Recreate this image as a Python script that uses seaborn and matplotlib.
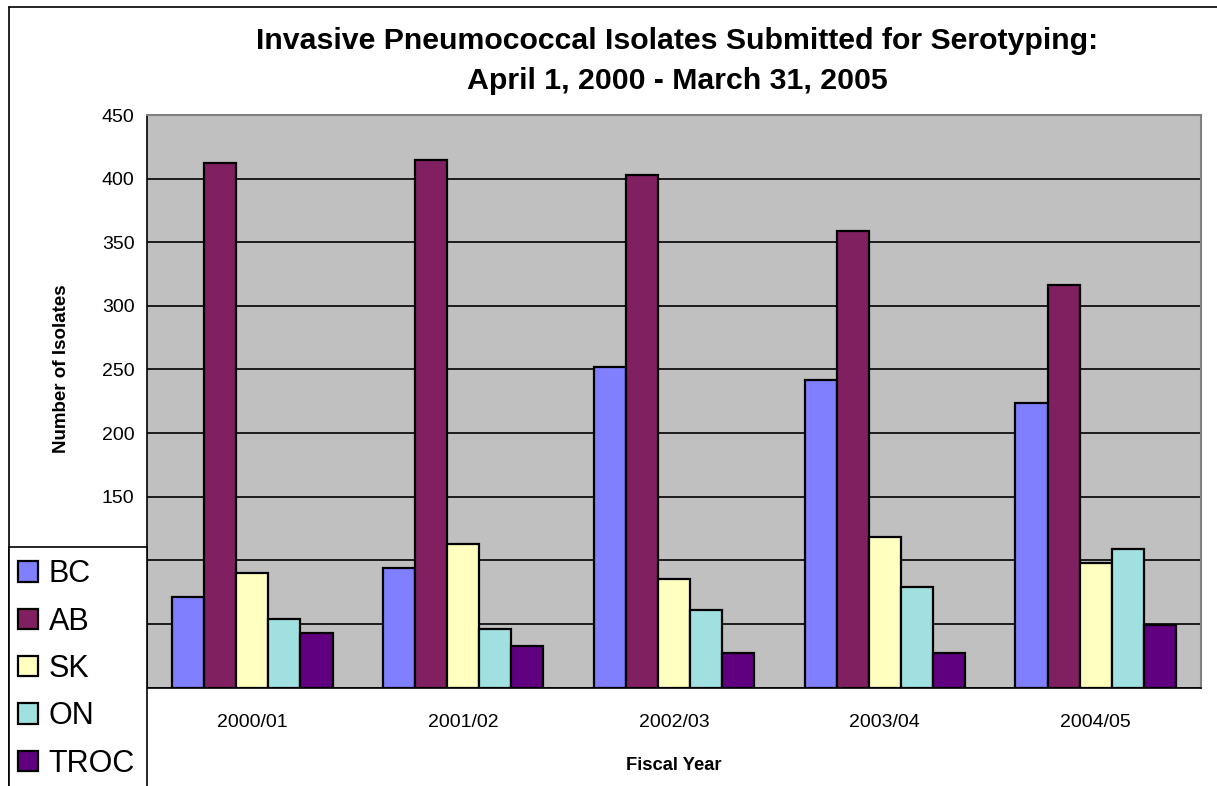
import matplotlib
matplotlib.use("Agg")
import matplotlib.pyplot as plt
from matplotlib.patches import Rectangle
from matplotlib.lines import Line2D
import seaborn as sns
import pandas as pd

# Fiscal years and isolate counts by province
years = ["2000/01", "2001/02", "2002/03", "2003/04", "2004/05"]
provinces = ["BC", "AB", "SK", "ON", "TROC"]
bc = [71, 94, 252, 242, 224]
ab = [412, 415, 403, 359, 316]
sk = [90, 113, 85, 118, 98]
on = [54, 46, 61, 79, 109]
troc = [43, 33, 27, 27, 49]
colors = ["#8080FF", "#802060", "#FFFFC0", "#A0E0E0", "#600080"]
y_ticks = [0, 50, 100, 150, 200, 250, 300, 350, 400, 450]

sns.set_style("white")
plt.rcParams["font.family"] = ["Liberation Sans", "DejaVu Sans"]
plt.rcParams["text.color"] = "black"
plt.rcParams["axes.labelcolor"] = "black"
plt.rcParams["xtick.color"] = "black"
plt.rcParams["ytick.color"] = "black"

rows = []
for name, vals in zip(provinces, [bc, ab, sk, on, troc]):
    for yr, v in zip(years, vals):
        rows.append({"Fiscal Year": yr, "Isolates": v, "Province": name})
df = pd.DataFrame(rows)

W, H = 1217, 786
fig = plt.figure(figsize=(W / 100, H / 100), dpi=100)
ax = fig.add_axes([147 / W, 1 - 687.5 / H, (1201 - 147) / W, (687.5 - 115) / H])
ax.set_facecolor("#C0C0C0")

sns.barplot(data=df, x="Fiscal Year", y="Isolates", hue="Province",
            hue_order=provinces, order=years, palette=colors,
            width=0.76, gap=0, edgecolor="black", linewidth=1.6,
            saturation=1, ax=ax, zorder=3)

handles, labels = ax.get_legend_handles_labels()
if ax.get_legend() is not None:
    ax.get_legend().remove()

ax.set_ylim(0, 450)
ax.set_xlim(-0.5, len(years) - 0.5)
ax.set_yticks(y_ticks)
ax.set_yticklabels([str(t) for t in y_ticks], fontsize=14)
ax.yaxis.grid(True, color="black", linewidth=1.2, zorder=0)
ax.set_axisbelow(True)

# category labels at centres, tick marks at the group boundaries
ax.set_xticks(range(len(years)))
ax.set_xticklabels(years, fontsize=14)
ax.tick_params(axis="x", which="major", length=0, pad=19)
ax.set_xticks([i - 0.5 for i in range(len(years) + 1)], minor=True)
ax.tick_params(axis="x", which="minor", length=6, width=1, color="black", direction="out")
ax.tick_params(axis="y", length=5, width=1, color="black", direction="out", pad=4)

ax.set_xlabel("Fiscal Year", fontsize=13.2, fontweight="bold", labelpad=19)
ax.set_ylabel("")
fig.text(62 / W, 1 - 369 / H, "Number of Isolates", rotation=90, fontsize=13.5,
         fontweight="bold", ha="center", va="center")

for side in ["left", "bottom"]:
    ax.spines[side].set_color("black")
    ax.spines[side].set_linewidth(1.2)
for side in ["top", "right"]:
    ax.spines[side].set_color("#808080")
    ax.spines[side].set_linewidth(1.5)

fig.text(677 / W, 1 - 41 / H, "Invasive Pneumococcal Isolates Submitted for Serotyping:",
         ha="center", va="center", fontsize=21.8, fontweight="bold")
fig.text(677 / W, 1 - 81 / H, "April 1, 2000 - March 31, 2005",
         ha="center", va="center", fontsize=21.8, fontweight="bold")

# chart border (left and top edges)
fig.add_artist(Line2D([9 / W, 9 / W], [0, 1 - 7 / H], color="black", linewidth=1.2,
                      transform=fig.transFigure))
fig.add_artist(Line2D([9 / W, 1], [1 - 7 / H, 1 - 7 / H], color="black", linewidth=1.2,
                      transform=fig.transFigure))

# legend box, running off the bottom edge
box = Rectangle((9 / W, -0.05), (147 - 9) / W, (1 - 547 / H) + 0.05,
                transform=fig.transFigure, facecolor="white", edgecolor="black",
                linewidth=1.2, zorder=4)
fig.add_artist(box)

leg = fig.legend(handles, labels, loc="upper left",
                 bbox_to_anchor=(12 / W, 1 - 553 / H), bbox_transform=fig.transFigure,
                 frameon=False, fontsize=22, handlelength=0.65, handleheight=0.65,
                 handletextpad=0.35, labelspacing=0.57, borderpad=0.2, borderaxespad=0)
leg.set_zorder(6)

fig.savefig("out.png", dpi=100)
